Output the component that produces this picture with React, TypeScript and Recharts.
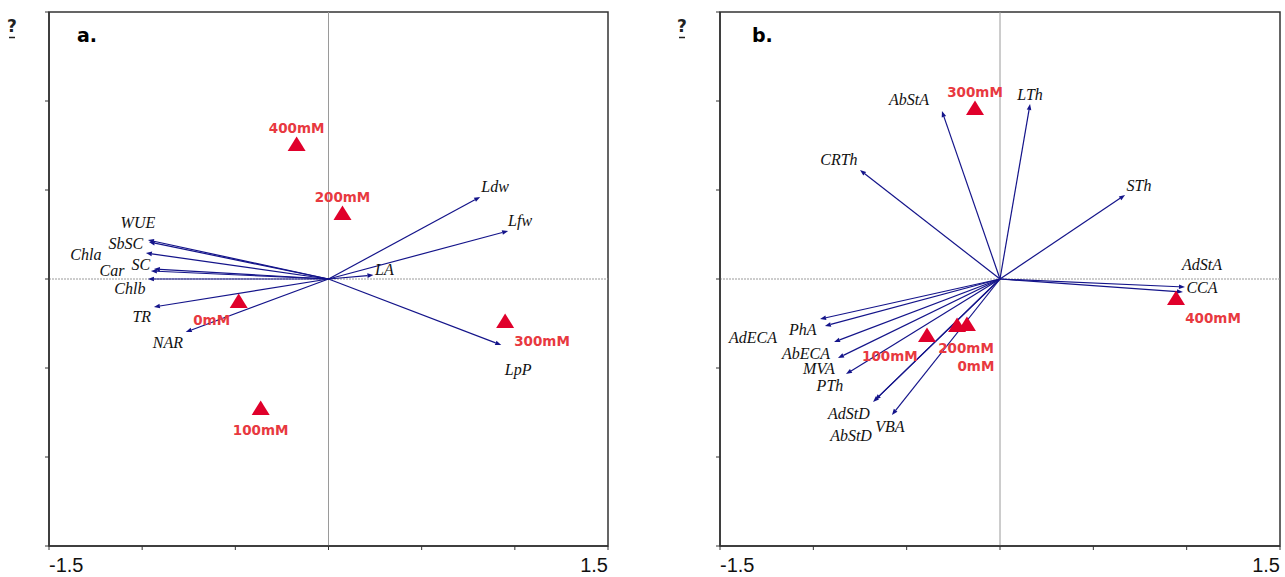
import React from 'react';
import { ScatterChart, Scatter, XAxis, YAxis, ReferenceLine, ReferenceArea } from 'recharts';

// ---------- Panel a ----------
const aVarNames = ['WUE', 'SbSC', 'Chla', 'SC', 'Car', 'Chlb', 'TR', 'NAR', 'Ldw', 'Lfw', 'LA', 'LpP'];
const aVarX = [-0.969, -0.964, -0.98, -0.937, -0.953, -0.969, -0.937, -0.766, 0.814, 0.964, 0.241, 0.927];
const aVarY = [0.219, 0.208, 0.146, 0.056, 0.045, 0, -0.157, -0.298, 0.461, 0.27, 0.022, -0.371];
const aLabelX = [-1.023, -1.087, -1.302, -1.007, -1.162, -1.066, -1.002, -0.862, 0.894, 1.028, 0.3, 1.018];
const aLabelY = [0.32, 0.202, 0.14, 0.084, 0.045, -0.056, -0.213, -0.354, 0.517, 0.326, 0.051, -0.506];

const aTrtNames = ['0mM', '100mM', '200mM', '300mM', '400mM'];
const aTrtX = [-0.482, -0.364, 0.075, 0.948, -0.171];
const aTrtY = [-0.124, -0.725, 0.371, -0.236, 0.758];
const aTrtLabelX = [-0.627, -0.364, 0.075, 1.146, -0.171];
const aTrtLabelY = [-0.23, -0.848, 0.461, -0.348, 0.848];

// ---------- Panel b ----------
const bVarNames = ['AbStA', 'LTh', 'CRTh', 'STh', 'AdStA', 'CCA', 'AdECA', 'PhA', 'AbECA', 'MVA', 'PTh', 'AdStD', 'AbStD', 'VBA'];
const bVarX = [-0.311, 0.161, -0.75, 0.67, 0.991, 0.98, -0.964, -0.938, -0.889, -0.868, -0.825, -0.68, -0.67, -0.579];
const bVarY = [0.944, 0.983, 0.612, 0.472, -0.045, -0.073, -0.225, -0.264, -0.354, -0.444, -0.534, -0.691, -0.68, -0.764];
const bLabelX = [-0.488, 0.161, -0.863, 0.745, 1.082, 1.082, -1.323, -1.056, -1.039, -0.97, -0.911, -0.809, -0.798, -0.59];
const bLabelY = [1.006, 1.034, 0.674, 0.528, 0.084, -0.045, -0.326, -0.281, -0.416, -0.5, -0.596, -0.753, -0.882, -0.826];

const bTrtNames = ['0mM', '100mM', '200mM', '300mM', '400mM'];
const bTrtX = [-0.177, -0.391, -0.23, -0.134, 0.943];
const bTrtY = [-0.253, -0.315, -0.258, 0.961, -0.107];
const bTrtLabelX = [-0.129, -0.59, -0.182, -0.134, 1.141];
const bTrtLabelY = [-0.489, -0.433, -0.388, 1.051, -0.219];

const axisTicks = [-1.5, -1, -0.5, 0, 0.5, 1, 1.5];
const axisTickLabels = ['-1.5', '', '', '', '', '', '1.5'];

const ARROW = '#14148a';
const TRI = '#e0002b';
const TRI_LABEL = '#e8393f';

const Arrow = (p: any) => {
  const { x1, y1, x2, y2 } = p;
  const dx = x2 - x1;
  const dy = y2 - y1;
  const len = Math.hypot(dx, dy) || 1;
  const ux = dx / len;
  const uy = dy / len;
  const hl = 6;
  const hw = 2.3;
  const bx = x2 - ux * hl;
  const by = y2 - uy * hl;
  const pts = `${x2},${y2} ${bx - uy * hw},${by + ux * hw} ${bx + uy * hw},${by - ux * hw}`;
  return (
    <g>
      <line x1={x1} y1={y1} x2={bx} y2={by} stroke={ARROW} strokeWidth={1.2} />
      <polygon points={pts} fill={ARROW} />
    </g>
  );
};

const Triangle = (p: any) => {
  const { cx, cy } = p;
  return <polygon points={`${cx},${cy - 7.5} ${cx - 9},${cy + 7} ${cx + 9},${cy + 7}`} fill={TRI} />;
};

const VarLabel = (p: any) => (
  <text
    x={p.cx}
    y={p.cy}
    textAnchor="middle"
    dominantBaseline="central"
    fontFamily="'Liberation Serif', 'DejaVu Serif', serif"
    fontStyle="italic"
    fontSize={16}
    fill="#111"
  >
    {p.payload.name}
  </text>
);

const TrtLabel = (p: any) => (
  <text
    x={p.cx}
    y={p.cy}
    textAnchor="middle"
    dominantBaseline="central"
    fontFamily="'DejaVu Sans', sans-serif"
    fontWeight="bold"
    fontSize={13.5}
    fill={TRI_LABEL}
  >
    {p.payload.name}
  </text>
);

const XTick = (p: any) => {
  const idx = axisTicks.indexOf(p.payload.value);
  const txt = idx >= 0 ? axisTickLabels[idx] : '';
  if (!txt) return <g />;
  const anchor = idx === 0 ? 'start' : 'end';
  return (
    <text x={p.x} y={p.y + 20} textAnchor={anchor} fontFamily="'Liberation Sans', Arial, sans-serif" fontSize={20} fill="#111">
      {txt}
    </text>
  );
};

const NoTick = () => <g />;

type PanelProps = {
  width: number;
  marginLeft: number;
  marginRight: number;
  varNames: string[];
  varX: number[];
  varY: number[];
  labX: number[];
  labY: number[];
  trtNames: string[];
  trtX: number[];
  trtY: number[];
  trtLabX: number[];
  trtLabY: number[];
};

const Panel = (props: PanelProps) => {
  const varLabels = props.varNames.map((n, i) => ({ name: n, x: props.labX[i], y: props.labY[i] }));
  const trts = props.trtNames.map((n, i) => ({ name: n, x: props.trtX[i], y: props.trtY[i] }));
  const trtLabels = props.trtNames.map((n, i) => ({ name: n, x: props.trtLabX[i], y: props.trtLabY[i] }));
  return (
    <ScatterChart
      width={props.width}
      height={577}
      margin={{ top: 12, left: props.marginLeft, right: props.marginRight, bottom: 30 }}
    >
      <XAxis
        type="number"
        dataKey="x"
        domain={[-1.5, 1.5]}
        ticks={axisTicks}
        height={1}
        tickSize={4}
        axisLine={{ stroke: '#333', strokeWidth: 1.5 }}
        tickLine={{ stroke: '#333' }}
        tick={XTick}
        interval={0}
        allowDataOverflow
      />
      <YAxis
        type="number"
        dataKey="y"
        domain={[-1.5, 1.5]}
        ticks={axisTicks}
        width={1}
        tickSize={4}
        axisLine={{ stroke: '#333', strokeWidth: 1.5 }}
        tickLine={{ stroke: '#333' }}
        tick={NoTick}
        interval={0}
        allowDataOverflow
      />
      <ReferenceArea x1={-1.5} x2={1.5} y1={-1.5} y2={1.5} fill="none" fillOpacity={0} stroke="#333" strokeWidth={1.5} />
      <ReferenceLine x={0} stroke="#9a9a9a" strokeWidth={1} />
      <ReferenceLine y={0} stroke="#9a9a9a" strokeWidth={1} strokeDasharray="2 1" />
      {props.varNames.map((n, i) => (
        <ReferenceLine
          key={n}
          segment={[
            { x: 0, y: 0 },
            { x: props.varX[i], y: props.varY[i] },
          ]}
          shape={Arrow}
        />
      ))}
      <Scatter data={trts} shape={Triangle} isAnimationActive={false} />
      <Scatter data={varLabels} shape={VarLabel} isAnimationActive={false} />
      <Scatter data={trtLabels} shape={TrtLabel} isAnimationActive={false} />
    </ScatterChart>
  );
};

export default function App() {
  return (
    <div style={{ position: 'absolute', left: 0, top: 0, width: 1285, height: 577, background: '#fff', overflow: 'hidden' }}>
      <div style={{ position: 'absolute', left: 0, top: 0 }}>
        <Panel
          width={640}
          marginLeft={48}
          marginRight={32}
          varNames={aVarNames}
          varX={aVarX}
          varY={aVarY}
          labX={aLabelX}
          labY={aLabelY}
          trtNames={aTrtNames}
          trtX={aTrtX}
          trtY={aTrtY}
          trtLabX={aTrtLabelX}
          trtLabY={aTrtLabelY}
        />
      </div>
      <div style={{ position: 'absolute', left: 640, top: 0 }}>
        <Panel
          width={645}
          marginLeft={79}
          marginRight={5}
          varNames={bVarNames}
          varX={bVarX}
          varY={bVarY}
          labX={bLabelX}
          labY={bLabelY}
          trtNames={bTrtNames}
          trtX={bTrtX}
          trtY={bTrtY}
          trtLabX={bTrtLabelX}
          trtLabY={bTrtLabelY}
        />
      </div>
      <svg width={1285} height={577} style={{ position: 'absolute', left: 0, top: 0, pointerEvents: 'none' }}>
        <text x={77} y={42} fontFamily="'DejaVu Sans', sans-serif" fontWeight="bold" fontSize={19} fill="#000">a.</text>
        <text x={752} y={42} fontFamily="'DejaVu Sans', sans-serif" fontWeight="bold" fontSize={19} fill="#000">b.</text>
        <text x={7} y={32} fontFamily="'DejaVu Sans', sans-serif" fontWeight="bold" fontSize={17} fill="#222">?</text>
        <line x1={9} y1={37.5} x2={15} y2={37.5} stroke="#222" strokeWidth={1.5} />
        <text x={677} y={32} fontFamily="'DejaVu Sans', sans-serif" fontWeight="bold" fontSize={17} fill="#222">?</text>
        <line x1={679} y1={37.5} x2={685} y2={37.5} stroke="#222" strokeWidth={1.5} />
      </svg>
    </div>
  );
}
